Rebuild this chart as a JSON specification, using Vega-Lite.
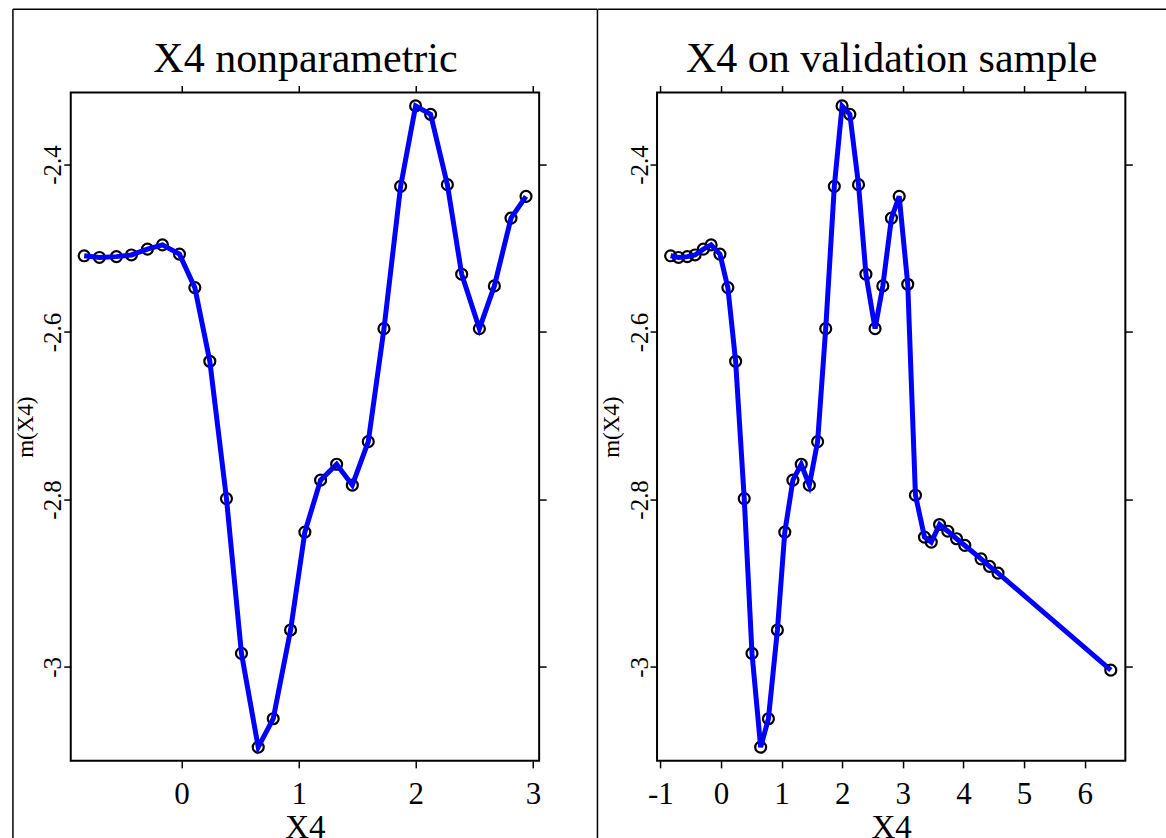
{
  "$schema": "https://vega.github.io/schema/vega-lite/v6.json",
  "padding": {"left": 10.75, "top": 6.55, "right": 0, "bottom": 0},
  "background": "white",
  "spacing": 117.3,
  "bounds": "flush",
  "datasets": {
    "fit": [
      {"x": -0.830, "y": -2.509}, {"x": -0.700, "y": -2.511}, {"x": -0.555, "y": -2.510},
      {"x": -0.427, "y": -2.508}, {"x": -0.290, "y": -2.501}, {"x": -0.162, "y": -2.496},
      {"x": -0.017, "y": -2.507}, {"x": 0.114, "y": -2.547}, {"x": 0.242, "y": -2.635},
      {"x": 0.384, "y": -2.799}, {"x": 0.512, "y": -2.984}, {"x": 0.655, "y": -3.096},
      {"x": 0.783, "y": -3.062}, {"x": 0.931, "y": -2.956}, {"x": 1.053, "y": -2.839},
      {"x": 1.187, "y": -2.777}, {"x": 1.324, "y": -2.758}, {"x": 1.458, "y": -2.783},
      {"x": 1.594, "y": -2.731}, {"x": 1.728, "y": -2.596}, {"x": 1.870, "y": -2.426},
      {"x": 1.998, "y": -2.330}, {"x": 2.126, "y": -2.340}, {"x": 2.269, "y": -2.424},
      {"x": 2.391, "y": -2.531}, {"x": 2.542, "y": -2.596}, {"x": 2.670, "y": -2.545},
      {"x": 2.812, "y": -2.464}, {"x": 2.940, "y": -2.438}
    ],
    "val": [
      {"x": -0.830, "y": -2.509}, {"x": -0.700, "y": -2.511}, {"x": -0.555, "y": -2.510},
      {"x": -0.427, "y": -2.508}, {"x": -0.290, "y": -2.501}, {"x": -0.162, "y": -2.496},
      {"x": -0.017, "y": -2.507}, {"x": 0.114, "y": -2.547}, {"x": 0.242, "y": -2.635},
      {"x": 0.384, "y": -2.799}, {"x": 0.512, "y": -2.984}, {"x": 0.655, "y": -3.096},
      {"x": 0.783, "y": -3.062}, {"x": 0.931, "y": -2.956}, {"x": 1.053, "y": -2.839},
      {"x": 1.187, "y": -2.777}, {"x": 1.324, "y": -2.758}, {"x": 1.458, "y": -2.783},
      {"x": 1.594, "y": -2.731}, {"x": 1.728, "y": -2.596}, {"x": 1.870, "y": -2.426},
      {"x": 1.998, "y": -2.330}, {"x": 2.126, "y": -2.340}, {"x": 2.269, "y": -2.424},
      {"x": 2.391, "y": -2.531}, {"x": 2.542, "y": -2.596}, {"x": 2.670, "y": -2.545},
      {"x": 2.812, "y": -2.464}, {"x": 2.940, "y": -2.438}, {"x": 3.081, "y": -2.543},
      {"x": 3.208, "y": -2.795}, {"x": 3.357, "y": -2.845}, {"x": 3.469, "y": -2.851},
      {"x": 3.606, "y": -2.830}, {"x": 3.742, "y": -2.838}, {"x": 3.886, "y": -2.847},
      {"x": 4.023, "y": -2.855}, {"x": 4.290, "y": -2.871}, {"x": 4.430, "y": -2.880},
      {"x": 4.570, "y": -2.888}, {"x": 6.430, "y": -3.004}
    ]
  },
  "config": {
    "font": "Liberation Serif",
    "view": {"stroke": "black", "strokeWidth": 2},
    "axis": {
      "domain": false, "grid": false, "tickColor": "black", "tickWidth": 1.5, "tickSize": 7,
      "labelColor": "black", "titleColor": "black", "labelFont": "Liberation Serif",
      "titleFont": "Liberation Serif", "titleFontWeight": "normal", "labelFlush": false,
      "labelOverlap": false
    }
  },
  "hconcat": [
    {
      "width": 468.4, "height": 668.3,
      "resolve": {"scale": {"x": "independent", "y": "independent"}},
      "layer": [
        {
          "data": {"name": "fit"},
          "encoding": {
            "x": {"field": "x", "type": "quantitative",
              "scale": {"domain": [-0.9445, 3.052], "nice": false, "zero": false},
              "axis": {"orient": "bottom", "values": [0, 1, 2, 3], "labelFontSize": 31, "labelPadding": 12,
                "labelExpr": "replace(format(datum.value, '~g'), '\u2212', '-')", "title": "X4", "titleFontSize": 33, "titlePadding": 2}},
            "y": {"field": "y", "type": "quantitative",
              "scale": {"domain": [-3.1123, -2.314], "nice": false, "zero": false},
              "axis": {"orient": "left", "values": [-3, -2.8, -2.6, -2.4], "labelFontSize": 25, "labelAngle": -90,
                "labelAlign": "center", "labelBaseline": "alphabetic", "labelPadding": 3,
                "labelExpr": "replace(format(datum.value, '~g'), '\u2212', '-')", "title": "m(X4)", "titleFontSize": 23, "titlePadding": 3.5}}
          },
          "layer": [
            {"mark": {"type": "point", "shape": "circle", "size": 120, "filled": false, "stroke": "black", "strokeWidth": 2.2, "opacity": 1}},
            {"mark": {"type": "line", "color": "#0000ff", "strokeWidth": 5}}
          ]
        },
        {
          "layer": [
            {
              "data": {"name": "fit"},
              "mark": {"type": "point", "opacity": 0},
              "encoding": {
                "x": {"field": "x", "type": "quantitative",
                  "scale": {"domain": [-0.9445, 3.052], "nice": false, "zero": false},
                  "axis": {"orient": "top", "values": [0, 1, 2, 3], "labels": false, "title": "X4 nonparametric",
                    "titleFontSize": 42, "titleBaseline": "alphabetic", "titlePadding": 13.7}},
                "y": {"field": "y", "type": "quantitative",
                  "scale": {"domain": [-3.1123, -2.314], "nice": false, "zero": false},
                  "axis": {"orient": "right", "values": [-3, -2.8, -2.6, -2.4], "labels": false, "title": null}}
              }
            },
            {
              "data": {"values": [{}]},
              "mark": {"type": "rule", "color": "black", "strokeWidth": 1.5},
              "encoding": {
                "x": {"datum": -1.438, "type": "quantitative", "scale": {"domain": [-0.9445, 3.052], "nice": false, "zero": false}},
                "y": {"datum": -2.2145, "type": "quantitative", "scale": {"domain": [-3.1123, -2.314], "nice": false, "zero": false}},
                "y2": {"datum": -3.2066}
              }
            },
            {
              "data": {"values": [{}]},
              "mark": {"type": "rule", "color": "black", "strokeWidth": 1.5},
              "encoding": {
                "x": {"datum": 3.5495, "type": "quantitative", "scale": {"domain": [-0.9445, 3.052], "nice": false, "zero": false}},
                "y": {"datum": -2.2145, "type": "quantitative", "scale": {"domain": [-3.1123, -2.314], "nice": false, "zero": false}},
                "y2": {"datum": -3.2066}
              }
            },
            {
              "data": {"values": [{}]},
              "mark": {"type": "rule", "color": "black", "strokeWidth": 1.5},
              "encoding": {
                "x": {"datum": -1.438, "type": "quantitative", "scale": {"domain": [-0.9445, 3.052], "nice": false, "zero": false}},
                "x2": {"datum": 3.5495},
                "y": {"datum": -2.2145, "type": "quantitative", "scale": {"domain": [-3.1123, -2.314], "nice": false, "zero": false}}
              }
            }
          ]
        }
      ]
    },
    {
      "width": 468.3, "height": 668.3,
      "resolve": {"scale": {"x": "independent", "y": "independent"}},
      "layer": [
        {
          "data": {"name": "val"},
          "encoding": {
            "x": {"field": "x", "type": "quantitative",
              "scale": {"domain": [-1.054, 6.670], "nice": false, "zero": false},
              "axis": {"orient": "bottom", "values": [-1, 0, 1, 2, 3, 4, 5, 6], "labelFontSize": 31, "labelPadding": 12,
                "labelExpr": "replace(format(datum.value, '~g'), '\u2212', '-')", "title": "X4", "titleFontSize": 33, "titlePadding": 2}},
            "y": {"field": "y", "type": "quantitative",
              "scale": {"domain": [-3.1123, -2.314], "nice": false, "zero": false},
              "axis": {"orient": "left", "values": [-3, -2.8, -2.6, -2.4], "labelFontSize": 25, "labelAngle": -90,
                "labelAlign": "center", "labelBaseline": "alphabetic", "labelPadding": 3,
                "labelExpr": "replace(format(datum.value, '~g'), '\u2212', '-')", "title": "m(X4)", "titleFontSize": 23, "titlePadding": 3.5}}
          },
          "layer": [
            {"mark": {"type": "point", "shape": "circle", "size": 120, "filled": false, "stroke": "black", "strokeWidth": 2.2, "opacity": 1}},
            {"mark": {"type": "line", "color": "#0000ff", "strokeWidth": 5}}
          ]
        },
        {
          "layer": [
            {
              "data": {"name": "val"},
              "mark": {"type": "point", "opacity": 0},
              "encoding": {
                "x": {"field": "x", "type": "quantitative",
                  "scale": {"domain": [-1.054, 6.670], "nice": false, "zero": false},
                  "axis": {"orient": "top", "values": [-1, 0, 1, 2, 3, 4, 5, 6], "labels": false, "title": "X4 on validation sample",
                    "titleFontSize": 42, "titleBaseline": "alphabetic", "titlePadding": 13.7}},
                "y": {"field": "y", "type": "quantitative",
                  "scale": {"domain": [-3.1123, -2.314], "nice": false, "zero": false},
                  "axis": {"orient": "right", "values": [-3, -2.8, -2.6, -2.4], "labels": false, "title": null}}
              }
            },
            {
              "data": {"values": [{}]},
              "mark": {"type": "rule", "color": "black", "strokeWidth": 1.5},
              "encoding": {
                "x": {"datum": -2.0271, "type": "quantitative", "scale": {"domain": [-1.054, 6.670], "nice": false, "zero": false}},
                "x2": {"datum": 7.3743},
                "y": {"datum": -2.2145, "type": "quantitative", "scale": {"domain": [-3.1123, -2.314], "nice": false, "zero": false}}
              }
            }
          ]
        }
      ]
    }
  ]
}
